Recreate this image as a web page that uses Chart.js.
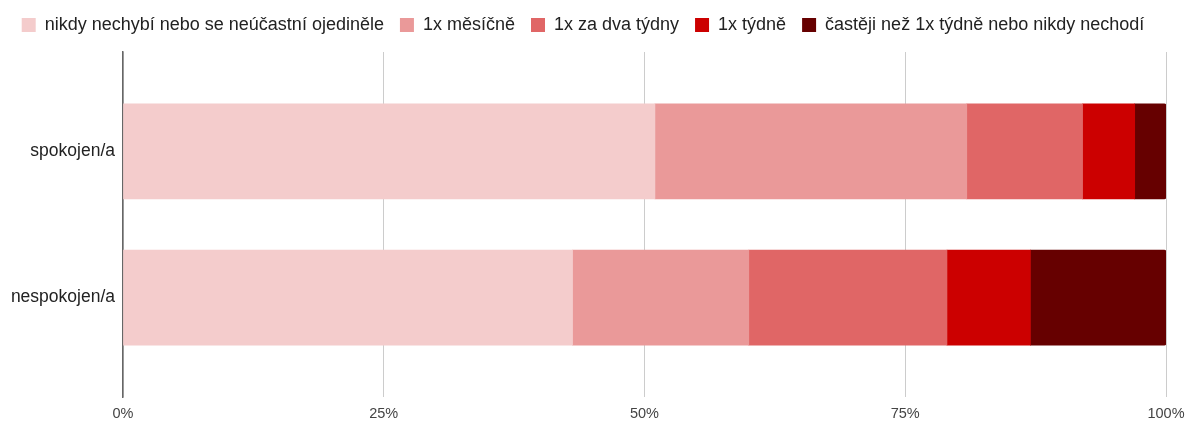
<!DOCTYPE html>
<html>
<head>
<meta charset="utf-8">
<script src="https://cdn.jsdelivr.net/npm/chart.js@4"></script>
<style>
  html, body { margin: 0; padding: 0; background: #fff; }
  #wrap { width: 1190px; height: 421px; }
</style>
</head>
<body>
<div id="wrap"><canvas id="freqChart"></canvas></div>
<script>
var categories = ['spokojen/a', 'nespokojen/a'];
var seriesNames = [
    'nikdy nechybí nebo se neúčastní ojediněle',
    '1x měsíčně',
    '1x za dva týdny',
    '1x týdně',
    'častěji než 1x týdně nebo nikdy nechodí'
];
// percent per category, same order as categories
var rare = [51.0, 43.1];
var monthly = [29.9, 16.9];
var biweekly = [11.1, 19.0];
var weekly = [5.0, 8.0];
var often = [3.0, 13.0];
var tickLabels = ['0%', '25%', '50%', '75%', '100%'];

var colors = ['#f4cccc', '#ea9999', '#e06666', '#cc0000', '#660000'];

var seriesValues = [rare, monthly, biweekly, weekly, often];
var datasets = seriesValues.map(function(vals, i) {
    return {
        label: seriesNames[i],
        data: vals.map(function(v, j) { return { x: v, y: j }; }),
        backgroundColor: colors[i],
        borderWidth: 0,
        borderRadius: i === seriesValues.length - 1 ? 2 : 0,
        barThickness: 95,
        grouped: false
    };
});

Chart.defaults.font.family = 'Arial, "Liberation Sans", sans-serif';
Chart.defaults.font.size = 17;
Chart.defaults.color = '#222';

// keep the plot top at a fixed distance below the legend
var legendHeight = {
    id: 'legendHeight',
    beforeInit: function(chart) {
        var fit = chart.legend.fit;
        chart.legend.fit = function() {
            fit.call(this);
            this.height = 52;
        };
    }
};

var ctx = document.getElementById('freqChart').getContext('2d');
var freqChart = new Chart(ctx, {
    type: 'bar',
    data: { datasets: datasets },
    plugins: [legendHeight],
    options: {
        indexAxis: 'y',
        responsive: true,
        maintainAspectRatio: false,
        animation: false,
        layout: { padding: { left: 0, right: 24, top: 0, bottom: 0 } },
        plugins: {
            legend: {
                position: 'top',
                labels: {
                    boxWidth: 14,
                    boxHeight: 14,
                    padding: 16,
                    color: '#222',
                    font: { size: 18 }
                }
            },
            tooltip: { enabled: false }
        },
        scales: {
            x: {
                stacked: true,
                min: 0,
                max: 100,
                afterBuildTicks: function(axis) {
                    axis.ticks = tickLabels.map(function(t, i) { return { value: i * 25 }; });
                },
                afterFit: function(axis) {
                    axis.height = 24;
                    axis.paddingRight = 0;
                },
                ticks: {
                    padding: 8,
                    color: '#444',
                    font: { size: 14.5 },
                    callback: function(v, i) { return tickLabels[i]; }
                },
                grid: { color: '#cccccc', drawTicks: false },
                border: { display: false }
            },
            y: {
                type: 'linear',
                reverse: true,
                offset: false,
                z: 1,
                min: -0.68,
                max: 1.68,
                afterBuildTicks: function(axis) {
                    axis.ticks = categories.map(function(c, i) { return { value: i }; });
                },
                afterFit: function(axis) { axis.width = 123; },
                ticks: {
                    padding: 8,
                    color: '#222',
                    font: { size: 17.5 },
                    callback: function(v) { return categories[v]; }
                },
                grid: { display: false, offset: false, drawTicks: false },
                border: { display: true, color: '#666', width: 1.5 }
            }
        }
    }
});
</script>
</body>
</html>
